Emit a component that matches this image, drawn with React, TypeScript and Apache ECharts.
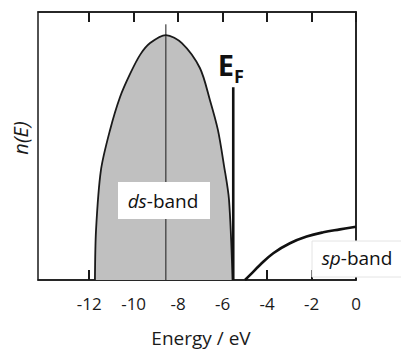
import React, { useEffect, useRef } from "react";
import * as echarts from "echarts";

// Tick values on the energy axis
const xTickValues = [-12, -10, -8, -6, -4, -2, 0];

// ds-band density of states (energy in eV, arbitrary density units)
const dsEnergy = [-11.74, -11.69, -11.47, -11.06, -10.61, -10.16, -9.71, -9.26, -8.55, -7.83, -7.02, -6.57, -6.21, -5.94, -5.71, -5.55];
const dsDensity = [0, 18.7, 41.0, 56.0, 68.3, 76.9, 84.0, 88.4, 91.4, 88.4, 79.1, 67.2, 56.0, 42.9, 29.9, 0];

// sp-band density of states
const spEnergy = [-4.99, -4.76, -4.32, -3.72, -2.97, -2.22, -1.47, -0.72, 0];
const spDensity = [0, 1.9, 5.6, 10.0, 13.7, 16.2, 17.8, 18.9, 19.9];

// Band centre line and Fermi level
const peakEnergy = [-8.55, -8.55];
const peakDensity = [0, 95.4];
const fermiEnergy = [-5.52, -5.52];
const fermiDensity = [0, 71.9];

const xMin = -14.3;
const xMax = 0;
const yMin = 0;
const yMax = 100;

const zip = (a: number[], b: number[]) => a.map((v, i) => [v, b[i]]);

export default function App() {
  const ref = useRef<HTMLDivElement>(null);
  useEffect(() => {
    document.body.style.margin = "0";
    if (!ref.current) return;
    const chart = echarts.init(ref.current, undefined, { renderer: "svg" });
    const ink = "#1a1a1a";
    const font = "Open Sans";
    const tickCfg = {
      show: true,
      inside: true,
      length: 10,
      customValues: xTickValues,
      lineStyle: { color: ink, width: 2 },
    };
    chart.setOption({
      animation: false,
      grid: {
        left: 38,
        right: 45,
        top: 12,
        bottom: 71,
        outerBoundsMode: "none",
        containLabel: false,
        show: true,
        borderColor: ink,
        borderWidth: 1.5,
      },
      xAxis: [
        {
          type: "value",
          min: xMin,
          max: xMax,
          position: "bottom",
          axisLine: { show: true, lineStyle: { color: ink, width: 1.5 } },
          axisTick: tickCfg,
          axisLabel: {
            show: true,
            customValues: xTickValues,
            margin: 15,
            fontFamily: font,
            fontSize: 17,
            color: "#1a1a1a",
            formatter: (v: number) => String(v),
          },
          splitLine: { show: false },
          name: "Energy / eV",
          nameLocation: "middle",
          nameGap: 48,
          nameTextStyle: {
            fontFamily: font,
            fontSize: 19,
            color: "#1a1a1a",
            padding: [0, 0, 0, 8],
          },
        },
        {
          type: "value",
          min: xMin,
          max: xMax,
          position: "top",
          axisLine: { show: true, lineStyle: { color: ink, width: 1.5 } },
          axisTick: tickCfg,
          axisLabel: { show: false },
          splitLine: { show: false },
        },
      ],
      yAxis: {
        type: "value",
        min: yMin,
        max: yMax,
        axisLine: { show: true, lineStyle: { color: ink, width: 1.5 } },
        axisTick: { show: false },
        axisLabel: { show: false },
        splitLine: { show: false },
        name: "n(E)",
        nameLocation: "middle",
        nameGap: 8,
        nameTextStyle: {
          fontFamily: font,
          fontSize: 20,
          fontStyle: "italic",
          color: "#1a1a1a",
          padding: [0, 0, 0, 16],
        },
      },
      series: [
        {
          name: "ds-band",
          type: "line",
          data: zip(dsEnergy, dsDensity),
          smooth: 0.3,
          symbol: "none",
          lineStyle: { color: ink, width: 1.8 },
          areaStyle: { color: "#c0c0c0", opacity: 1 },
          z: 2,
        },
        {
          name: "centre",
          type: "line",
          data: zip(peakEnergy, peakDensity),
          symbol: "none",
          lineStyle: { color: ink, width: 1 },
          z: 3,
        },
        {
          name: "Fermi level",
          type: "line",
          data: zip(fermiEnergy, fermiDensity),
          symbol: "none",
          lineStyle: { color: "#111", width: 2.6 },
          z: 4,
        },
        {
          name: "sp-band",
          type: "line",
          data: zip(spEnergy, spDensity),
          smooth: 0.4,
          symbol: "none",
          lineStyle: { color: "#111", width: 2.6 },
          z: 4,
        },
      ],
      graphic: [
        {
          type: "rect",
          z: 100,
          shape: { x: 118, y: 182, width: 92, height: 37 },
          style: { fill: "#fff" },
        },
        {
          type: "text",
          z: 101,
          x: 163,
          y: 201,
          style: {
            text: "{i|ds}{r|-band}",
            align: "center",
            verticalAlign: "middle",
            rich: {
              i: { fontFamily: font, fontSize: 19, fontStyle: "italic", fill: "#111" },
              r: { fontFamily: font, fontSize: 19, fill: "#111" },
            },
          },
        },
        {
          type: "rect",
          z: 100,
          shape: { x: 312, y: 241, width: 92, height: 36 },
          style: { fill: "#fff", stroke: "#e4e4e4", lineWidth: 1 },
        },
        {
          type: "text",
          z: 101,
          x: 357,
          y: 258,
          style: {
            text: "{i|sp}{r|-band}",
            align: "center",
            verticalAlign: "middle",
            rich: {
              i: { fontFamily: font, fontSize: 19, fontStyle: "italic", fill: "#111" },
              r: { fontFamily: font, fontSize: 19, fill: "#111" },
            },
          },
        },
        {
          type: "text",
          z: 101,
          x: 234,
          y: 64,
          style: {
            text: "E",
            fontFamily: font,
            fontWeight: "bold",
            fontSize: 29,
            fill: "#111",
            align: "right",
            verticalAlign: "middle",
          },
        },
        {
          type: "text",
          z: 101,
          x: 234,
          y: 76,
          style: {
            text: "F",
            fontFamily: font,
            fontWeight: "bold",
            fontSize: 18,
            fill: "#111",
            align: "left",
            verticalAlign: "middle",
          },
        },
      ],
    });
    return () => chart.dispose();
  }, []);
  return <div ref={ref} style={{ width: 401, height: 351 }} />;
}
